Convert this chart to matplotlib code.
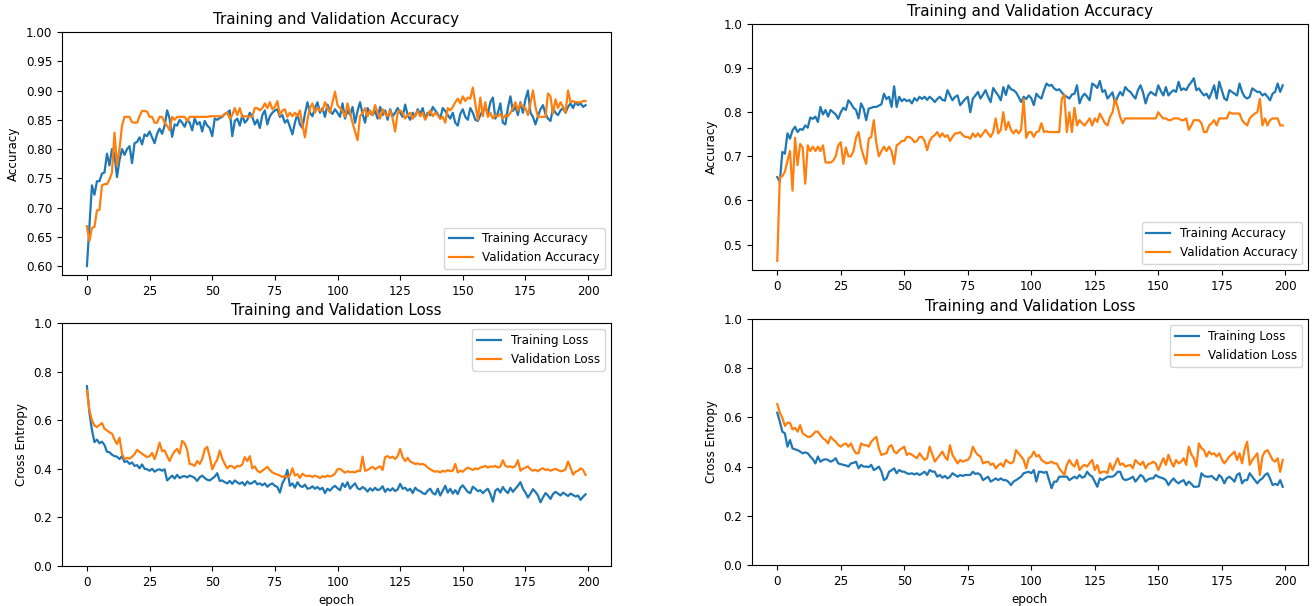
import numpy as np
import matplotlib
matplotlib.use("Agg")
import matplotlib.pyplot as plt

# ---- left run (epochs 0..199) ----
acc_l = [
    0.600, 0.670, 0.738, 0.722, 0.745, 0.745, 0.758, 0.760, 0.792, 0.772,
    0.800, 0.790, 0.752, 0.781, 0.800, 0.790, 0.800, 0.805, 0.776, 0.810,
    0.812, 0.820, 0.808, 0.825, 0.822, 0.830, 0.820, 0.810, 0.826, 0.835,
    0.826, 0.840, 0.866, 0.852, 0.821, 0.842, 0.840, 0.850, 0.845, 0.838,
    0.850, 0.845, 0.832, 0.852, 0.842, 0.846, 0.830, 0.848, 0.840, 0.836,
    0.822, 0.852, 0.850, 0.853, 0.855, 0.860, 0.862, 0.866, 0.822, 0.848,
    0.852, 0.840, 0.858, 0.845, 0.850, 0.862, 0.855, 0.842, 0.850, 0.836,
    0.858, 0.866, 0.842, 0.856, 0.862, 0.866, 0.868, 0.855, 0.858, 0.845,
    0.850, 0.838, 0.825, 0.845, 0.860, 0.842, 0.836, 0.860, 0.880, 0.862,
    0.856, 0.870, 0.880, 0.862, 0.870, 0.855, 0.876, 0.865, 0.860, 0.868,
    0.862, 0.855, 0.878, 0.852, 0.866, 0.858, 0.872, 0.845, 0.865, 0.880,
    0.860, 0.845, 0.870, 0.862, 0.858, 0.865, 0.852, 0.872, 0.858, 0.866,
    0.850, 0.868, 0.856, 0.862, 0.870, 0.862, 0.855, 0.876, 0.858, 0.850,
    0.862, 0.856, 0.868, 0.860, 0.870, 0.852, 0.862, 0.858, 0.872, 0.866,
    0.860, 0.852, 0.870, 0.865, 0.858, 0.852, 0.862, 0.845, 0.840, 0.860,
    0.868, 0.855, 0.850, 0.870, 0.862, 0.850, 0.848, 0.858, 0.866, 0.872,
    0.860, 0.880, 0.888, 0.852, 0.862, 0.878, 0.845, 0.842, 0.870, 0.890,
    0.865, 0.872, 0.858, 0.880, 0.862, 0.885, 0.900, 0.862, 0.855, 0.842,
    0.856, 0.868, 0.875, 0.860, 0.852, 0.848, 0.870, 0.862, 0.858, 0.866,
    0.870, 0.862, 0.872, 0.878, 0.870, 0.880, 0.875, 0.878, 0.872, 0.875,
]
val_acc_l = [
    0.668, 0.643, 0.665, 0.667, 0.695, 0.696, 0.738, 0.740, 0.740, 0.748,
    0.760, 0.828, 0.772, 0.800, 0.840, 0.855, 0.855, 0.855, 0.846, 0.845,
    0.845, 0.856, 0.865, 0.865, 0.864, 0.855, 0.855, 0.845, 0.845, 0.855,
    0.855, 0.845, 0.840, 0.832, 0.855, 0.850, 0.855, 0.855, 0.855, 0.855,
    0.848, 0.855, 0.855, 0.855, 0.855, 0.855, 0.855, 0.855, 0.855, 0.856,
    0.856, 0.856, 0.856, 0.856, 0.856, 0.860, 0.862, 0.852, 0.858, 0.870,
    0.858, 0.870, 0.855, 0.856, 0.856, 0.855, 0.856, 0.870, 0.870, 0.866,
    0.870, 0.878, 0.870, 0.880, 0.868, 0.872, 0.882, 0.858, 0.866, 0.868,
    0.855, 0.862, 0.856, 0.862, 0.856, 0.866, 0.842, 0.820, 0.850, 0.870,
    0.878, 0.862, 0.870, 0.866, 0.866, 0.880, 0.870, 0.862, 0.880, 0.898,
    0.875, 0.870, 0.865, 0.855, 0.878, 0.862, 0.845, 0.830, 0.815, 0.856,
    0.862, 0.870, 0.856, 0.866, 0.858, 0.875, 0.862, 0.852, 0.868, 0.860,
    0.856, 0.866, 0.852, 0.830, 0.862, 0.866, 0.862, 0.852, 0.858, 0.862,
    0.852, 0.858, 0.865, 0.856, 0.862, 0.850, 0.858, 0.866, 0.856, 0.862,
    0.858, 0.852, 0.855, 0.845, 0.870, 0.866, 0.872, 0.880, 0.886, 0.878,
    0.890, 0.882, 0.888, 0.886, 0.905, 0.878, 0.850, 0.888, 0.856, 0.880,
    0.855, 0.862, 0.852, 0.858, 0.856, 0.860, 0.852, 0.858, 0.856, 0.862,
    0.870, 0.880, 0.866, 0.878, 0.872, 0.870, 0.858, 0.878, 0.900, 0.872,
    0.855, 0.855, 0.855, 0.855, 0.895, 0.890, 0.860, 0.885, 0.870, 0.880,
    0.872, 0.862, 0.900, 0.880, 0.882, 0.880, 0.880, 0.880, 0.882, 0.882,
]
loss_l = [
    0.740, 0.630, 0.560, 0.510, 0.520, 0.505, 0.512, 0.498, 0.470, 0.468,
    0.458, 0.452, 0.450, 0.440, 0.452, 0.428, 0.432, 0.420, 0.426, 0.412,
    0.415, 0.402, 0.418, 0.400, 0.398, 0.392, 0.400, 0.388, 0.395, 0.398,
    0.392, 0.398, 0.352, 0.362, 0.372, 0.360, 0.375, 0.362, 0.368, 0.370,
    0.365, 0.372, 0.368, 0.362, 0.350, 0.365, 0.372, 0.362, 0.355, 0.352,
    0.360, 0.368, 0.382, 0.350, 0.352, 0.345, 0.340, 0.350, 0.338, 0.352,
    0.344, 0.338, 0.345, 0.332, 0.348, 0.338, 0.342, 0.350, 0.336, 0.340,
    0.332, 0.340, 0.326, 0.335, 0.340, 0.330, 0.325, 0.302, 0.340, 0.360,
    0.395, 0.330, 0.340, 0.322, 0.345, 0.330, 0.325, 0.335, 0.318, 0.320,
    0.328, 0.318, 0.325, 0.315, 0.322, 0.300, 0.318, 0.310, 0.322, 0.330,
    0.320, 0.312, 0.340, 0.325, 0.345, 0.318, 0.330, 0.340, 0.320, 0.315,
    0.325, 0.318, 0.306, 0.320, 0.310, 0.322, 0.312, 0.316, 0.328, 0.305,
    0.318, 0.310, 0.320, 0.308, 0.315, 0.338, 0.318, 0.322, 0.310, 0.318,
    0.300, 0.322, 0.312, 0.308, 0.300, 0.296, 0.310, 0.318, 0.300, 0.294,
    0.318, 0.290, 0.310, 0.330, 0.302, 0.318, 0.298, 0.312, 0.296, 0.322,
    0.332, 0.318, 0.305, 0.300, 0.326, 0.318, 0.308, 0.312, 0.300, 0.310,
    0.318, 0.296, 0.265, 0.310, 0.318, 0.302, 0.325, 0.310, 0.300, 0.322,
    0.305, 0.318, 0.330, 0.345, 0.318, 0.302, 0.282, 0.298, 0.316, 0.305,
    0.290, 0.262, 0.282, 0.300, 0.290, 0.276, 0.296, 0.305, 0.298, 0.290,
    0.302, 0.295, 0.288, 0.298, 0.292, 0.286, 0.290, 0.272, 0.285, 0.295,
]
val_loss_l = [
    0.722, 0.640, 0.600, 0.578, 0.572, 0.580, 0.588, 0.565, 0.558, 0.550,
    0.545, 0.520, 0.502, 0.528, 0.462, 0.440, 0.445, 0.442, 0.450, 0.460,
    0.478, 0.470, 0.462, 0.455, 0.448, 0.452, 0.465, 0.440, 0.470, 0.508,
    0.472, 0.476, 0.452, 0.432, 0.455, 0.472, 0.482, 0.462, 0.515, 0.505,
    0.478, 0.420, 0.418, 0.412, 0.432, 0.420, 0.440, 0.480, 0.490, 0.450,
    0.398, 0.420, 0.438, 0.475, 0.442, 0.420, 0.402, 0.412, 0.410, 0.402,
    0.412, 0.410, 0.418, 0.448, 0.432, 0.452, 0.402, 0.410, 0.392, 0.385,
    0.392, 0.400, 0.408, 0.395, 0.385, 0.380, 0.376, 0.372, 0.366, 0.372,
    0.365, 0.372, 0.402, 0.372, 0.378, 0.362, 0.380, 0.372, 0.370, 0.372,
    0.366, 0.372, 0.368, 0.362, 0.370, 0.366, 0.372, 0.368, 0.372, 0.380,
    0.398, 0.400, 0.392, 0.384, 0.390, 0.386, 0.388, 0.385, 0.392, 0.390,
    0.450, 0.392, 0.395, 0.402, 0.408, 0.398, 0.405, 0.410, 0.395, 0.448,
    0.452, 0.445, 0.450, 0.440, 0.452, 0.482, 0.448, 0.432, 0.445, 0.430,
    0.425, 0.420, 0.422, 0.418, 0.420, 0.415, 0.405, 0.398, 0.392, 0.388,
    0.390, 0.385, 0.392, 0.388, 0.395, 0.390, 0.392, 0.420, 0.385, 0.392,
    0.388, 0.398, 0.405, 0.400, 0.395, 0.402, 0.398, 0.405, 0.408, 0.412,
    0.405, 0.410, 0.408, 0.412, 0.405, 0.410, 0.435, 0.412, 0.408, 0.410,
    0.405, 0.412, 0.435, 0.392, 0.400, 0.405, 0.410, 0.398, 0.392, 0.396,
    0.390, 0.398, 0.402, 0.395, 0.398, 0.392, 0.396, 0.400, 0.395, 0.390,
    0.392, 0.398, 0.430, 0.405, 0.376, 0.388, 0.392, 0.402, 0.395, 0.375,
]

# ---- right run (epochs 0..199) ----
acc_r = [
    0.653, 0.642, 0.710, 0.706, 0.752, 0.740, 0.759, 0.767, 0.755, 0.762,
    0.760, 0.770, 0.765, 0.788, 0.785, 0.790, 0.778, 0.812, 0.795, 0.805,
    0.790, 0.805, 0.800, 0.795, 0.785, 0.800, 0.810, 0.805, 0.827, 0.820,
    0.810, 0.805, 0.786, 0.820, 0.808, 0.782, 0.808, 0.810, 0.812, 0.812,
    0.815, 0.818, 0.842, 0.830, 0.835, 0.812, 0.859, 0.812, 0.835, 0.825,
    0.830, 0.825, 0.828, 0.820, 0.832, 0.826, 0.835, 0.830, 0.835, 0.828,
    0.835, 0.830, 0.823, 0.830, 0.835, 0.828, 0.826, 0.850, 0.838, 0.827,
    0.835, 0.838, 0.816, 0.823, 0.830, 0.835, 0.800, 0.831, 0.838, 0.846,
    0.831, 0.840, 0.850, 0.835, 0.823, 0.855, 0.846, 0.838, 0.827, 0.857,
    0.839, 0.861, 0.852, 0.850, 0.845, 0.835, 0.823, 0.835, 0.830, 0.838,
    0.832, 0.816, 0.842, 0.835, 0.831, 0.850, 0.865, 0.860, 0.862, 0.854,
    0.850, 0.852, 0.845, 0.838, 0.835, 0.831, 0.840, 0.842, 0.861, 0.820,
    0.835, 0.842, 0.835, 0.827, 0.865, 0.861, 0.855, 0.871, 0.846, 0.850,
    0.831, 0.838, 0.845, 0.820, 0.835, 0.846, 0.838, 0.857, 0.850, 0.846,
    0.838, 0.831, 0.850, 0.861, 0.845, 0.820, 0.838, 0.846, 0.842, 0.838,
    0.861, 0.848, 0.838, 0.857, 0.838, 0.845, 0.850, 0.846, 0.869, 0.850,
    0.854, 0.850, 0.861, 0.868, 0.877, 0.850, 0.854, 0.845, 0.838, 0.842,
    0.831, 0.845, 0.861, 0.831, 0.869, 0.850, 0.831, 0.827, 0.850, 0.846,
    0.842, 0.838, 0.865, 0.846, 0.835, 0.831, 0.835, 0.854, 0.850, 0.846,
    0.846, 0.838, 0.842, 0.835, 0.827, 0.842, 0.846, 0.865, 0.846, 0.861,
]
val_acc_r = [
    0.463, 0.653, 0.655, 0.665, 0.690, 0.712, 0.622, 0.742, 0.680, 0.728,
    0.720, 0.638, 0.725, 0.712, 0.722, 0.712, 0.722, 0.712, 0.725, 0.686,
    0.686, 0.686, 0.690, 0.700, 0.725, 0.732, 0.683, 0.720, 0.700, 0.700,
    0.712, 0.742, 0.755, 0.720, 0.700, 0.683, 0.740, 0.744, 0.782, 0.730,
    0.700, 0.712, 0.722, 0.712, 0.722, 0.712, 0.683, 0.725, 0.729, 0.735,
    0.735, 0.744, 0.744, 0.740, 0.732, 0.735, 0.744, 0.744, 0.735, 0.714,
    0.735, 0.744, 0.748, 0.755, 0.744, 0.752, 0.744, 0.748, 0.735, 0.744,
    0.752, 0.752, 0.755, 0.748, 0.744, 0.744, 0.740, 0.752, 0.744, 0.752,
    0.744, 0.752, 0.760, 0.752, 0.744, 0.755, 0.786, 0.752, 0.760, 0.800,
    0.760, 0.778, 0.760, 0.752, 0.760, 0.752, 0.760, 0.830, 0.742, 0.755,
    0.755, 0.744, 0.755, 0.757, 0.775, 0.755, 0.757, 0.755, 0.755, 0.755,
    0.755, 0.755, 0.830, 0.840, 0.755, 0.800, 0.755, 0.810, 0.770, 0.782,
    0.775, 0.770, 0.778, 0.786, 0.770, 0.786, 0.778, 0.797, 0.786, 0.775,
    0.770, 0.789, 0.800, 0.830, 0.812, 0.789, 0.775, 0.786, 0.786, 0.786,
    0.786, 0.786, 0.786, 0.786, 0.786, 0.786, 0.786, 0.786, 0.786, 0.786,
    0.800, 0.792, 0.786, 0.786, 0.782, 0.782, 0.786, 0.786, 0.786, 0.782,
    0.782, 0.786, 0.760, 0.770, 0.782, 0.782, 0.782, 0.775, 0.755, 0.755,
    0.770, 0.775, 0.782, 0.770, 0.786, 0.786, 0.786, 0.786, 0.800, 0.797,
    0.797, 0.797, 0.797, 0.782, 0.775, 0.770, 0.786, 0.792, 0.797, 0.800,
    0.830, 0.770, 0.786, 0.770, 0.782, 0.786, 0.786, 0.786, 0.770, 0.770,
]
loss_r = [
    0.619, 0.583, 0.542, 0.535, 0.481, 0.508, 0.474, 0.470, 0.467, 0.461,
    0.454, 0.458, 0.454, 0.441, 0.430, 0.413, 0.441, 0.420, 0.427, 0.430,
    0.427, 0.420, 0.425, 0.434, 0.413, 0.410, 0.407, 0.405, 0.400, 0.413,
    0.415, 0.420, 0.393, 0.407, 0.400, 0.400, 0.398, 0.407, 0.386, 0.392,
    0.400, 0.380, 0.345, 0.352, 0.379, 0.385, 0.393, 0.373, 0.386, 0.380,
    0.379, 0.373, 0.370, 0.373, 0.368, 0.373, 0.366, 0.372, 0.379, 0.366,
    0.386, 0.380, 0.379, 0.359, 0.366, 0.355, 0.362, 0.352, 0.359, 0.373,
    0.366, 0.359, 0.366, 0.362, 0.366, 0.366, 0.366, 0.379, 0.370, 0.373,
    0.366, 0.345, 0.352, 0.359, 0.339, 0.345, 0.352, 0.345, 0.352, 0.345,
    0.345, 0.338, 0.325, 0.339, 0.345, 0.352, 0.359, 0.373, 0.376, 0.379,
    0.373, 0.386, 0.339, 0.379, 0.379, 0.375, 0.379, 0.345, 0.312, 0.339,
    0.339, 0.359, 0.359, 0.359, 0.359, 0.345, 0.352, 0.359, 0.352, 0.366,
    0.355, 0.359, 0.379, 0.366, 0.359, 0.339, 0.318, 0.352, 0.345, 0.352,
    0.359, 0.359, 0.359, 0.366, 0.379, 0.379, 0.352, 0.345, 0.348, 0.352,
    0.359, 0.339, 0.352, 0.366, 0.359, 0.339, 0.348, 0.352, 0.352, 0.366,
    0.359, 0.355, 0.352, 0.345, 0.325, 0.340, 0.352, 0.339, 0.332, 0.340,
    0.345, 0.325, 0.339, 0.330, 0.318, 0.318, 0.320, 0.373, 0.362, 0.359,
    0.359, 0.362, 0.352, 0.345, 0.366, 0.355, 0.332, 0.352, 0.359, 0.350,
    0.339, 0.366, 0.373, 0.332, 0.345, 0.345, 0.373, 0.359, 0.345, 0.332,
    0.345, 0.352, 0.366, 0.373, 0.352, 0.325, 0.330, 0.325, 0.345, 0.318,
]
val_loss_r = [
    0.654, 0.619, 0.598, 0.565, 0.578, 0.578, 0.551, 0.558, 0.542, 0.569,
    0.535, 0.528, 0.521, 0.521, 0.530, 0.542, 0.542, 0.528, 0.515, 0.508,
    0.494, 0.521, 0.510, 0.501, 0.488, 0.481, 0.490, 0.494, 0.481, 0.494,
    0.470, 0.454, 0.454, 0.494, 0.488, 0.487, 0.481, 0.501, 0.512, 0.521,
    0.474, 0.447, 0.452, 0.454, 0.481, 0.487, 0.461, 0.454, 0.467, 0.474,
    0.481, 0.447, 0.454, 0.448, 0.441, 0.434, 0.454, 0.440, 0.427, 0.434,
    0.481, 0.450, 0.420, 0.434, 0.447, 0.461, 0.440, 0.427, 0.487, 0.447,
    0.430, 0.413, 0.427, 0.420, 0.425, 0.427, 0.441, 0.481, 0.460, 0.447,
    0.441, 0.413, 0.418, 0.420, 0.407, 0.413, 0.393, 0.405, 0.413, 0.400,
    0.427, 0.418, 0.413, 0.420, 0.467, 0.454, 0.441, 0.427, 0.393, 0.434,
    0.441, 0.461, 0.441, 0.447, 0.427, 0.420, 0.413, 0.416, 0.420, 0.413,
    0.413, 0.393, 0.380, 0.366, 0.407, 0.427, 0.410, 0.400, 0.427, 0.386,
    0.400, 0.407, 0.400, 0.415, 0.427, 0.386, 0.407, 0.373, 0.379, 0.380,
    0.373, 0.413, 0.386, 0.410, 0.434, 0.407, 0.413, 0.400, 0.404, 0.407,
    0.393, 0.427, 0.415, 0.407, 0.420, 0.393, 0.410, 0.413, 0.420, 0.413,
    0.386, 0.410, 0.434, 0.407, 0.448, 0.420, 0.400, 0.427, 0.413, 0.420,
    0.434, 0.407, 0.481, 0.450, 0.434, 0.400, 0.494, 0.475, 0.467, 0.441,
    0.461, 0.450, 0.454, 0.441, 0.454, 0.430, 0.413, 0.427, 0.441, 0.450,
    0.461, 0.427, 0.454, 0.413, 0.470, 0.501, 0.407, 0.427, 0.440, 0.454,
    0.366, 0.441, 0.461, 0.467, 0.448, 0.427, 0.420, 0.434, 0.379, 0.427,
]

epochs = np.arange(len(acc_l))
xticks = [0, 25, 50, 75, 100, 125, 150, 175, 200]

FS = 8.6
plt.rcParams['font.size'] = FS

fig = plt.figure(figsize=(13.14, 6.06), dpi=100)
W, H = 1314, 606


def add_ax(x0, y_top, x1, y_bot):
    return fig.add_axes([x0 / W, 1 - y_bot / H, (x1 - x0) / W, (y_bot - y_top) / H])


panels = [
    # axes box (px), train, val, name, legend loc, yticks, fmt, loss panel?
    ((62, 32, 610.5, 275), acc_l, val_acc_l, 'Accuracy', 'lower right',
     np.arange(0.60, 1.001, 0.05), '%.2f', False),
    ((62, 323, 610.5, 566), loss_l, val_loss_l, 'Loss', 'upper right',
     np.arange(0, 1.001, 0.2), '%.1f', True),
    ((752, 24, 1308, 270), acc_r, val_acc_r, 'Accuracy', 'lower right',
     np.arange(0.5, 1.001, 0.1), '%.1f', False),
    ((752, 319, 1308, 565), loss_r, val_loss_r, 'Loss', 'upper right',
     np.arange(0, 1.001, 0.2), '%.1f', True),
]

for box, train, val, name, loc, yt, fmt, is_loss in panels:
    ax = add_ax(*box)
    ax.plot(epochs, train, color='#1f77b4', lw=1.6, label='Training ' + name)
    ax.plot(epochs, val, color='#ff7f0e', lw=1.6, label='Validation ' + name)
    ax.legend(loc=loc, fontsize=FS)
    ax.set_title('Training and Validation ' + name, fontsize=10.8)
    if is_loss:
        ax.set_ylim([0, 1.0])
        ax.set_ylabel('Cross Entropy')
        ax.set_xlabel('epoch')
    else:
        ax.set_ylim([min(ax.get_ylim()), 1])
        ax.set_ylabel('Accuracy')
    ax.set_yticks(yt)
    ax.yaxis.set_major_formatter(matplotlib.ticker.FormatStrFormatter(fmt))
    ax.set_xticks(xticks)
    ax.tick_params(labelsize=FS)

fig.savefig('out.png', dpi=100)
